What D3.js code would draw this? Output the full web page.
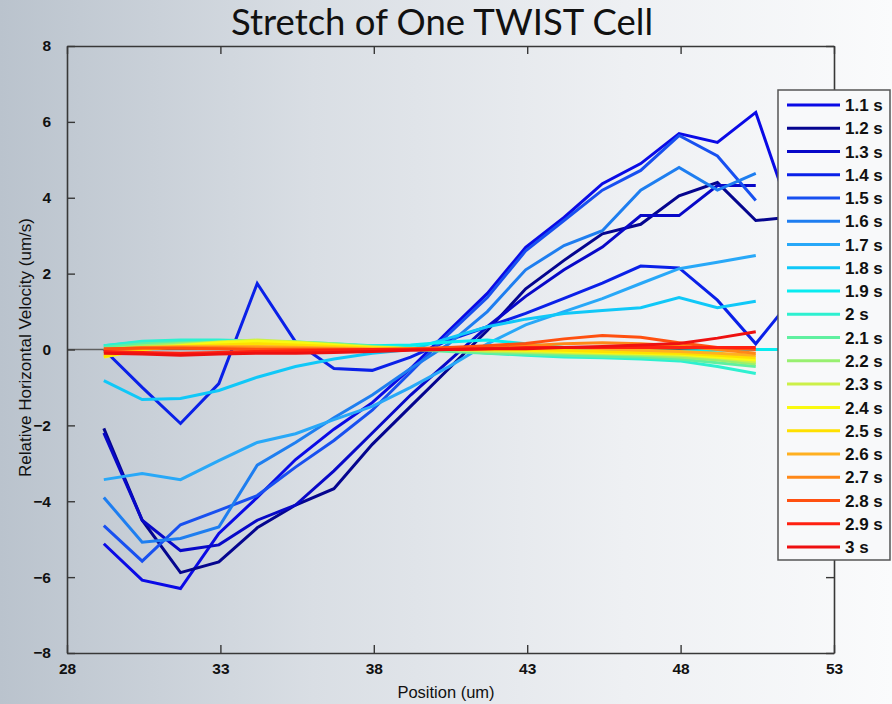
<!DOCTYPE html>
<html>
<head>
<meta charset="utf-8">
<script src="https://cdn.jsdelivr.net/npm/d3@7/dist/d3.min.js"></script>
<style>
  html, body { margin: 0; padding: 0; }
  svg { display: block; }
</style>
</head>
<body>
<div id="chart"></div>
<script>
// sample positions along the cell (um)
var positions = [29.2, 30.45, 31.7, 32.95, 34.2, 35.45, 36.7, 37.95, 39.2, 40.45, 41.7, 42.95, 44.2, 45.45, 46.7, 47.95, 49.2, 50.45, 51.7];

var xTicks = [28, 33, 38, 43, 48, 53];
var yTicks = [-8, -6, -4, -2, 0, 2, 4, 6, 8];

var times = ["1.1 s", "1.2 s", "1.3 s", "1.4 s", "1.5 s", "1.6 s", "1.7 s", "1.8 s", "1.9 s", "2 s",
             "2.1 s", "2.2 s", "2.3 s", "2.4 s", "2.5 s", "2.6 s", "2.7 s", "2.8 s", "2.9 s", "3 s"];

// relative horizontal velocity (um/s), one array per time
var v1_1 = [-5.12, -6.08, -6.3, -4.85, -3.9, -2.9, -2.1, -1.4, -0.5, 0.5, 1.48, 2.69, 3.48, 4.37, 4.9, 5.69, 5.46, 6.25, 3.3];
var v1_2 = [-2.08, -4.5, -5.88, -5.6, -4.7, -4.1, -3.67, -2.5, -1.5, -0.5, 0.5, 1.6, 2.35, 3.05, 3.3, 4.05, 4.4, 3.4, 3.5];
var v1_3 = [-2.2, -4.5, -5.3, -5.15, -4.5, -4.1, -3.2, -2.2, -1.2, -0.3, 0.6, 1.4, 2.1, 2.7, 3.53, 3.53, 4.32, 4.32];
var v1_4 = [0.0, -1.0, -1.95, -0.9, 1.74, 0.2, -0.5, -0.55, -0.2, 0.25, 0.6, 0.95, 1.35, 1.75, 2.2, 2.15, 1.3, 0.15, 1.4];
var v1_5 = [-4.64, -5.58, -4.62, -4.24, -3.85, -3.1, -2.4, -1.6, -0.6, 0.42, 1.37, 2.6, 3.4, 4.2, 4.72, 5.64, 5.1, 3.93];
var v1_6 = [-3.9, -5.08, -4.98, -4.68, -3.05, -2.45, -1.8, -1.2, -0.5, 0.15, 1.0, 2.1, 2.74, 3.13, 4.2, 4.8, 4.2, 4.64];
var v1_7 = [-3.43, -3.27, -3.43, -2.93, -2.45, -2.22, -1.85, -1.5, -1.0, -0.45, 0.15, 0.65, 1.0, 1.34, 1.74, 2.13, 2.3, 2.48];
var v1_8 = [-0.82, -1.32, -1.29, -1.08, -0.73, -0.45, -0.25, -0.1, 0.0, 0.3, 0.6, 0.8, 0.95, 1.03, 1.1, 1.37, 1.1, 1.27];
var v1_9 = [0.1, 0.2, 0.22, 0.2, 0.18, 0.15, 0.12, 0.1, 0.12, 0.2, 0.25, 0.15, 0.05, -0.02, -0.05, -0.05, -0.02, 0.0, 0.0];
var v2_0 = [0.1, 0.22, 0.25, 0.25, 0.22, 0.2, 0.15, 0.1, 0.05, 0.0, -0.1, -0.15, -0.2, -0.22, -0.25, -0.3, -0.45, -0.63];
var v2_1 = [0.05, 0.15, 0.18, 0.2, 0.2, 0.15, 0.1, 0.05, 0.0, -0.05, -0.1, -0.12, -0.15, -0.18, -0.2, -0.25, -0.35, -0.45];
var v2_2 = [0.0, 0.1, 0.15, 0.18, 0.22, 0.2, 0.15, 0.08, 0.02, 0.0, -0.05, -0.08, -0.1, -0.12, -0.15, -0.2, -0.28, -0.38];
var v2_3 = [-0.1, 0.05, 0.12, 0.2, 0.25, 0.2, 0.12, 0.06, 0.02, 0.0, -0.03, -0.05, -0.08, -0.1, -0.12, -0.15, -0.22, -0.33];
var v2_4 = [-0.2, 0.0, 0.1, 0.18, 0.22, 0.18, 0.12, 0.05, 0.02, 0.0, 0.0, -0.02, -0.05, -0.08, -0.1, -0.12, -0.2, -0.28];
var v2_5 = [-0.18, 0.0, 0.08, 0.12, 0.15, 0.12, 0.08, 0.04, 0.02, 0.0, 0.0, 0.0, -0.02, -0.05, -0.08, -0.1, -0.15, -0.22];
var v2_6 = [-0.05, 0.05, 0.08, 0.08, 0.08, 0.06, 0.04, 0.02, 0.0, 0.0, 0.02, 0.05, 0.05, 0.02, -0.02, -0.05, -0.1, -0.15];
var v2_7 = [0.0, 0.05, 0.05, 0.05, 0.04, 0.03, 0.02, 0.0, 0.0, 0.02, 0.05, 0.1, 0.15, 0.18, 0.15, 0.1, 0.0, -0.1];
var v2_8 = [0.02, 0.03, 0.03, 0.02, 0.0, 0.0, 0.0, 0.0, 0.02, 0.05, 0.1, 0.16, 0.28, 0.37, 0.32, 0.18, 0.05, 0.0];
var v2_9 = [-0.05, -0.08, -0.1, -0.08, -0.05, -0.03, -0.02, 0.0, 0.0, 0.0, 0.02, 0.05, 0.05, 0.05, 0.05, 0.05, 0.05, 0.05];
var v3_0 = [-0.1, -0.12, -0.15, -0.12, -0.1, -0.1, -0.08, -0.05, -0.02, 0.0, 0.02, 0.02, 0.05, 0.08, 0.12, 0.16, 0.3, 0.47];

var series = [v1_1, v1_2, v1_3, v1_4, v1_5, v1_6, v1_7, v1_8, v1_9, v2_0,
              v2_1, v2_2, v2_3, v2_4, v2_5, v2_6, v2_7, v2_8, v2_9, v3_0];

var lineColors = ["#0a0ae6", "#05058f", "#0808c8", "#0a20e8", "#1850f0", "#1e7ef0", "#28a8f8", "#10c8f8", "#08ecf0", "#2ef0d0",
                  "#60f0a0", "#98f070", "#ccf048", "#fafa10", "#ffe000", "#ffb020", "#ff8818", "#ff5010", "#ff2010", "#ee1010"];

const W = 892, H = 704;
const margin = ({top: 46, right: 58, bottom: 51, left: 67});
const width = W - margin.left - margin.right;
const height = H - margin.top - margin.bottom;

var x = d3.scaleLinear().domain([28, 53]).range([0, width]);
var y = d3.scaleLinear().domain([-8, 8]).range([height, 0]);

var svg = d3.select("#chart").append("svg")
  .attr("width", W)
  .attr("height", H)
  .style("font-family", "'Liberation Sans', Arial, sans-serif");

// slide background
var grad = svg.append("defs").append("linearGradient")
  .attr("id", "bg")
  .attr("x1", "0%").attr("x2", "100%").attr("y1", "0%").attr("y2", "0%");
grad.append("stop").attr("offset", "0%").attr("stop-color", "#bac3cd");
grad.append("stop").attr("offset", "35%").attr("stop-color", "#d9dee4");
grad.append("stop").attr("offset", "70%").attr("stop-color", "#eef0f3");
grad.append("stop").attr("offset", "100%").attr("stop-color", "#fafbfc");

svg.append("rect")
  .attr("width", W)
  .attr("height", H)
  .attr("fill", "url(#bg)");

svg.append("text")
  .attr("x", 442)
  .attr("y", 35)
  .attr("text-anchor", "middle")
  .style("font-family", "Lato, 'Noto Sans', sans-serif")
  .style("font-size", "36.5px")
  .style("fill", "#111")
  .text("Stretch of One TWIST Cell");

var g = svg.append("g")
  .attr("transform", "translate(" + margin.left + "," + margin.top + ")");

// zero reference line
g.append("line")
  .attr("x1", 0).attr("x2", width)
  .attr("y1", y(0)).attr("y2", y(0))
  .style("stroke", "#606060")
  .style("stroke-width", 1.4);

var line = d3.line()
  .x(function(d, i) { return x(positions[i]); })
  .y(function(d) { return y(d); });

g.selectAll(".series")
  .data(series)
  .enter().append("path")
  .attr("class", "series")
  .attr("d", function(d) { return line(d); })
  .style("fill", "none")
  .style("stroke", function(d, i) { return lineColors[i]; })
  .style("stroke-width", 3)
  .style("stroke-linejoin", "miter");

// axes, MATLAB style box with inward ticks
var axisColor = "#383838";
function styleAxis(sel) {
  sel.selectAll("path.domain").style("stroke", axisColor).style("stroke-width", 1.6);
  sel.selectAll(".tick line").style("stroke", axisColor).style("stroke-width", 1.4);
  sel.selectAll(".tick text")
    .style("font-family", "'Liberation Sans', Arial, sans-serif")
    .style("font-size", "15.5px")
    .style("font-weight", "bold")
    .style("fill", "#111");
}

g.append("g")
  .attr("transform", "translate(0," + height + ")")
  .call(d3.axisBottom(x).tickValues(xTicks).tickSizeInner(-8).tickSizeOuter(0).tickPadding(10).tickFormat(d3.format("d")))
  .call(styleAxis);

g.append("g")
  .call(d3.axisTop(x).tickValues(xTicks).tickSizeInner(-8).tickSizeOuter(0).tickFormat(""))
  .call(styleAxis);

g.append("g")
  .call(d3.axisLeft(y).tickValues(yTicks).tickSizeInner(-8).tickSizeOuter(0).tickPadding(16).tickFormat(d3.format("d")))
  .call(styleAxis);

g.append("g")
  .attr("transform", "translate(" + width + ",0)")
  .call(d3.axisRight(y).tickValues(yTicks).tickSizeInner(-8).tickSizeOuter(0).tickFormat(""))
  .call(styleAxis);

// axis labels
svg.append("text")
  .attr("x", 446)
  .attr("y", 698)
  .attr("text-anchor", "middle")
  .style("font-size", "16.5px")
  .style("fill", "#111")
  .text("Position (um)");

svg.append("text")
  .attr("transform", "translate(31," + (margin.top + y(0) - 2) + ") rotate(-90)")
  .attr("text-anchor", "middle")
  .style("font-size", "17px")
  .style("fill", "#111")
  .text("Relative Horizontal Velocity (um/s)");

// legend
var legend = svg.append("g")
  .attr("transform", "translate(778,90)");

legend.append("rect")
  .attr("width", 112)
  .attr("height", 470)
  .style("fill", "#f8f9fa")
  .style("stroke", "#555")
  .style("stroke-width", 1.5);

var entry = legend.selectAll(".entry")
  .data(times)
  .enter().append("g")
  .attr("class", "entry")
  .attr("transform", function(d, i) { return "translate(0," + (15 + i * 23.26) + ")"; });

entry.append("line")
  .attr("x1", 9).attr("x2", 62)
  .style("stroke", function(d, i) { return lineColors[i]; })
  .style("stroke-width", 3);

entry.append("text")
  .attr("x", 67)
  .attr("dy", "0.36em")
  .style("font-size", "17px")
  .style("font-weight", "bold")
  .style("fill", "#111")
  .text(function(d) { return d; });
</script>
</body>
</html>
